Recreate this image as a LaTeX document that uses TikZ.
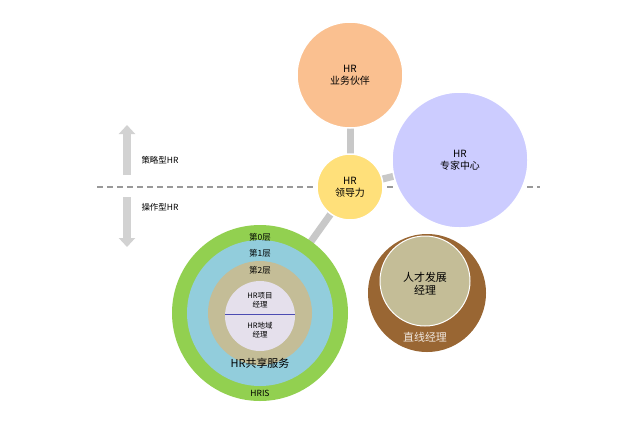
\documentclass[tikz,border=0pt]{standalone}
\usepackage{fontspec}
\setmainfont{Noto Sans CJK SC}
\usetikzlibrary{arrows.meta}
\definecolor{peach}{HTML}{FAC090}
\definecolor{expert}{HTML}{CCCCFF}
\definecolor{lead}{HTML}{FFE07A}
\definecolor{ring0}{HTML}{92D050}
\definecolor{ring1}{HTML}{92CDDC}
\definecolor{ring2}{HTML}{C4BD97}
\definecolor{core}{HTML}{E5E0EC}
\definecolor{brown}{HTML}{996633}
\definecolor{stick}{HTML}{C8C8C8}
\tikzset{
  ball/.style={circle,draw=white,line width=1.5bp,inner sep=0pt,align=center,font=\fontsize{10}{12}\selectfont},
  lbl/.style={font=\fontsize{8.5}{10}\selectfont},
  link/.style={stick,line width=7bp},
  updown/.style={-{Triangle[width=16bp,length=9bp]},line width=8bp,gray!35}
}
\begin{document}
\begin{tikzpicture}[x=1bp,y=-1bp]
\useasboundingbox (0,0) rectangle (640,432);

% axis of the two kinds
\draw[gray!80,dashed,line width=1.2bp,dash pattern=on 6bp off 4bp] (97,187) -- (540,187);
\draw[updown] (127,175) -- (127,125);
\draw[updown] (127,197) -- (127,247);
\node[lbl,anchor=west] (strat) at (138,160) {策略型HR};
\node[lbl,anchor=west] (oper) at (138,207) {操作型HR};

% connectors
\coordinate (hub) at (350,187);
\coordinate (ring) at (260,313);
\draw[link] (hub) -- (350,75);
\draw[link] (hub) -- (460,160);
\draw[link] (hub) -- (ring);

% three roles
\node[ball,fill=peach,minimum size=106bp] (bp) at (350,75) {HR\\业务伙伴};
\node[ball,fill=expert,minimum size=136bp] (coe) at (460,160) {HR\\专家中心};

% shared services rings
\fill[ring0] (ring) circle (88);
\fill[ring1] (ring) circle (73);
\fill[ring2] (ring) circle (52);
\fill[core] (260,316) circle (35);
\draw[blue!40!gray,line width=1bp] (225,314) -- (295,314);
\node[lbl] (l0) at (260,237) {第0层};
\node[lbl] (l1) at (260,253) {第1层};
\node[lbl] (l2) at (260,270) {第2层};
\node[font=\fontsize{7.5}{9.5}\selectfont,align=center] (proj) at (260,300) {HR项目\\经理};
\node[font=\fontsize{7.5}{9.5}\selectfont,align=center] (area) at (260,330) {HR地域\\经理};
\node[font=\fontsize{11}{13}\selectfont] (ssc) at (260,363) {HR共享服务};
\node[lbl] (hris) at (260,393) {HRIS};

\node[ball,fill=lead,minimum size=66bp] (hr) at (hub) {HR\\领导力};

% line managers
\fill[brown] (427,293) circle (59);
\draw[white,line width=1bp,fill=ring2] (425,281) circle (45);
\node[ball,draw=none,font=\fontsize{11}{13}\selectfont] (talent) at (425,284) {人才发展\\经理};
\node[font=\fontsize{11}{13}\selectfont,text=white!85!brown] (line) at (425,337) {直线经理};
\end{tikzpicture}
\end{document}
